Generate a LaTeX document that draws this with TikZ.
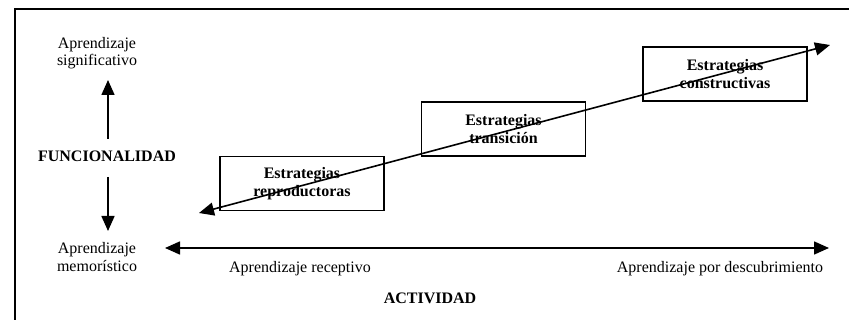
\documentclass[tikz,border=0pt]{standalone}
\usepackage{fontspec}
\setmainfont{Liberation Serif}
\usetikzlibrary{arrows.meta}
\begin{document}
\begin{tikzpicture}[x=1pt,y=-1pt,
  lbl/.style={font=\fontsize{16}{17.5}\selectfont, align=center, inner sep=0pt},
  blbl/.style={font=\fontsize{16}{17.5}\selectfont\bfseries, align=center, inner sep=0pt},
  stratbox/.style={draw, line width=1.4pt, minimum width=164pt, minimum height=54pt, font=\fontsize{16}{18.5}\selectfont\bfseries, align=center},
  arr/.style={line width=1.6pt, -{Triangle[length=15pt,width=13pt]}},
  darr/.style={line width=1.6pt, {Triangle[length=15pt,width=13pt]}-{Triangle[length=15pt,width=13pt]}}]
\useasboundingbox (0,0) rectangle (849,320);
% frame (left and top edges)
\draw[line width=1.4pt] (15,320) -- (15,9) -- (849,9);
% vertical axis labels
\node[lbl] (sig) at (97,53) {Aprendizaje\\significativo};
\node[blbl] (func) at (107,156) {FUNCIONALIDAD};
\node[lbl] (mem) at (97,257) {Aprendizaje\\memorístico};
\coordinate (vu0) at (108,139);
\coordinate (vu1) at (108,80);
\coordinate (vd0) at (108,177);
\coordinate (vd1) at (108,231);
\draw[arr] (vu0) -- (vu1);
\draw[arr] (vd0) -- (vd1);
% horizontal axis
\coordinate (hl) at (165,248);
\coordinate (hr) at (829,248);
\draw[darr] (hl) -- (hr);
\node[lbl] (rec) at (300,269) {Aprendizaje receptivo};
\node[lbl] (desc) at (720,269) {Aprendizaje por descubrimiento};
\node[blbl] (act) at (430,298) {ACTIVIDAD};
% strategy boxes
\node[stratbox] (b1) at (302,183.5) {Estrategias\\reproductoras};
\node[stratbox] (b2) at (503.5,129) {Estrategias\\transición};
\node[stratbox] (b3) at (725,74) {Estrategias\\constructivas};
% diagonal arrow
\coordinate (dl) at (199,213);
\coordinate (dr) at (830,45);
\draw[darr] (dl) -- (dr);
\end{tikzpicture}
\end{document}
